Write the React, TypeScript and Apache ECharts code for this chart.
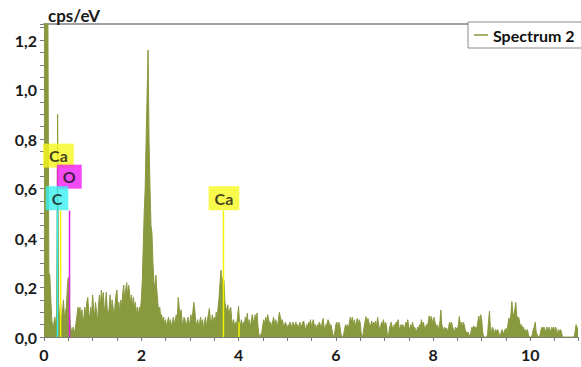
import React, { useEffect, useRef } from "react";
import * as echarts from "echarts";

// Spectrum 2: cps/eV in hundredths, one channel every 0.02 keV, one array per keV
const energyStepKeV = 0.02;
const spectrum0to1 = [300,250,200,160,130,26,25,15,7,4, 5,8,5,10,90,12,8,14,6,10, 15,8,10,12,20,24,14,5,3,2, 4,2,3,6,9,12,10,12,7,11, 6,8,12,9,14,16,10,7,12,9];
const spectrum1to2 = [17,12,8,14,10,6,13,17,12,19, 14,18,10,13,18,11,8,12,17,10, 15,12,7,13,17,19,11,14,9,15, 12,18,21,14,19,22,16,21,18,13, 17,12,16,11,14,9,12,8,12,10];
const spectrum2to3 = [15,22,36,50,60,80,98,116,79,60, 45,42,30,22,20,25,19,14,10,12, 8,9,6,8,5,7,4,6,8,5, 7,4,6,8,5,7,9,6,16,12, 8,11,6,5,8,7,4,6,8,5];
const spectrum3to4 = [6,9,7,10,14,11,6,5,7,4, 6,8,5,7,3,6,8,4,7,9, 11.5,7,5,9,6,8,5,10,8,12, 16,22,27,20,24,23,14,12,10,13, 8,11,12,7,5,7,4,6,5,8];
const spectrum4to5 = [12.5,6,5,7,4,6,5,8,6,9.6, 5,7,4,6,9,7,5,9,6,9.7, 4,1,0,1,2,5,7,5,8,6, 9,7,5,6,4,6,8,5,7,6, 4,7,10,8,6,7,5,4,6,5];
const spectrum5to6 = [3,5,4,6,5,3,6,4,5,6, 4,5,3,6,5,4,6,6.5,4,3, 5,4,6,5,7,4,6,7,4,5, 3,5,4,6,5,3,6,7.5,4,3, 5,5.5,7,6,4,5,3,1,0,2];
const spectrum6to7 = [5,6,4,6,5,2,0,0,1,3, 5,4,5,3,6,8,6,8,5,7, 4,6,7.5,5,7,6,2,0,1,4, 6,8.2,5,7.5,6,4,5,6.5,4,6, 5,6.5,4,8,5,3,4,6,5,7];
const spectrum7to8 = [4,6,5,1,0,3,5,6,4,3, 5,4,6,5,7,4,3,5,4,5, 3,4,6,5,7,4,3,5,4,6, 3,4,3,2,4,3,5,4,7,5, 6,4,3,5,4,6,8.5,6,8.3,7];
const spectrum8to9 = [5,8,6,4,5,3,4,6,10.9,5, 3.5,3,4,3,3.5,2,4,6,5,6, 4,3,2,4,3.5,3,5,8.3,5,6, 4,6,5,3,2,1.5,2,1,0,2, 4,3,4.5,3,4,3.5,6,8.5,6,9];
const spectrum9to10 = [7,2,0,0,0,0,1,6,10.5,3, 2,4,3,1,3,2,3,2.5,1,0, 2,3,1,2,3,3.5,2,5,7.7,6, 9,14.3,10,8,11,14,9,7,8,6, 4,5,3.5,4,2,3,2,3,1,0];
const spectrum10to11 = [0,0,1,3,4,6,2,1,0,0, 1,3,4,3,4,2,3,4,2,4, 3,2,4,3,4,2,4,3,1,3, 2,3,2,0,0,0,0,0,0,0, 0,0,0,0,0,0,2,5,4,3];

// Element marker lines
const markerEnergies = [0.277, 0.341, 0.525, 3.69, 4.01];
const markerHeights = [0.51, 0.51, 0.51, 0.51, 0.06];
const markerColors = ["#35eded", "#f2f200", "#e51ee5", "#f2f200", "#f2f200"];

// Element labels
const labelTexts = ["Ca", "O", "C", "Ca"];
const labelEnergies = [0.297, 0.52, 0.266, 3.70];
const labelLevels = [0.733, 0.648, 0.561, 0.561];
const labelColors = ["#f7f71e", "#f01ef0", "#3af0f0", "#f7f71e"];

const seriesName = "Spectrum 2";
const green = "#88993e";
const font = "Lato, 'Open Sans', sans-serif";

export default function App() {
  const ref = useRef<HTMLDivElement>(null);
  useEffect(() => {
    const chart = echarts.init(ref.current!, null, { renderer: "svg" });
    const all = [
      ...spectrum0to1, ...spectrum1to2, ...spectrum2to3, ...spectrum3to4, ...spectrum4to5,
      ...spectrum5to6, ...spectrum6to7, ...spectrum7to8, ...spectrum8to9, ...spectrum9to10, ...spectrum10to11,
    ];
    const spectrum = all.map((v, i) => [Number((i * energyStepKeV).toFixed(2)), v / 100]);

    const markerSeries = markerEnergies.map((e, i) => ({
      type: "line",
      data: [[e, 0], [e, markerHeights[i]]],
      symbol: "none",
      lineStyle: { color: markerColors[i], width: 1.5 },
      silent: true,
      z: 3,
    }));

    const labelStyle = { fontFamily: font, fontWeight: "bold", fontSize: 16, color: "#1a1a1a" };

    const option: any = {
      animation: false,
      backgroundColor: "#ffffff",
      title: {
        text: "cps/eV",
        left: 43,
        top: 2,
        textStyle: { ...labelStyle, fontSize: 17 },
      },
      legend: {
        data: [{ name: seriesName, icon: "rect" }],
        left: 468,
        top: 22,
        padding: [5, 20, 5, 6],
        itemWidth: 14,
        itemHeight: 1.5,
        itemGap: 6,
        borderColor: "#8a8a8a",
        borderWidth: 1,
        backgroundColor: "#ffffff",
        textStyle: { ...labelStyle, color: "#111" },
      },
      grid: {
        left: 44,
        right: 0,
        top: 24,
        bottom: 30,
      },
      xAxis: [
        {
          type: "value",
          min: 0,
          max: 10.98,
          interval: 0.5,
          axisLine: { show: true, lineStyle: { color: "#7a7a7a", width: 1 } },
          axisTick: { show: true, length: 4, lineStyle: { color: "#7a7a7a" } },
          splitLine: { show: false },
          axisLabel: {
            ...labelStyle,
            margin: 9,
            formatter: (v: number) => {
              const k = Math.round(v * 2);
              if (Math.abs(v * 2 - k) < 1e-6 && k % 4 === 0) return String(k / 2);
              return "";
            },
          },
        },
        {
          type: "value",
          position: "top",
          min: 0,
          max: 10.98,
          axisLine: { show: true, onZero: false, lineStyle: { color: "#a0a0a0", width: 2 } },
          axisTick: { show: false },
          axisLabel: { show: false },
          splitLine: { show: false },
        },
      ],
      yAxis: {
        type: "value",
        min: 0,
        max: 1.265,
        interval: 0.05,
        axisLine: { show: true, lineStyle: { color: "#7a7a7a", width: 1 } },
        axisTick: { show: true, length: 4, lineStyle: { color: "#7a7a7a" } },
        splitLine: { show: false },
        axisLabel: {
          ...labelStyle,
          margin: 7,
          formatter: (v: number) => {
            const k = Math.round(v * 20);
            if (Math.abs(v * 20 - k) < 1e-6 && k % 4 === 0) return (k / 20).toFixed(1).replace(".", ",");
            return "";
          },
        },
      },
      series: [
        {
          name: seriesName,
          type: "line",
          data: spectrum,
          symbol: "none",
          showSymbol: false,
          itemStyle: { color: green },
          lineStyle: { color: green, width: 1 },
          areaStyle: { color: green, opacity: 1 },
          clip: true,
          z: 2,
        },
        ...markerSeries,
        {
          type: "scatter",
          symbolSize: 1,
          itemStyle: { color: "rgba(0,0,0,0)" },
          silent: true,
          z: 5,
          data: labelTexts.map((t, i) => ({
            name: t,
            value: [labelEnergies[i], labelLevels[i]],
            label: { backgroundColor: labelColors[i] },
          })),
          label: {
            show: true,
            position: "inside",
            formatter: (p: any) => p.name,
            ...labelStyle,
            color: "#111",
            lineHeight: 15,
            padding: [5, 6, 4, 6],
          },
        },
      ],
    };
    chart.setOption(option);
    return () => chart.dispose();
  }, []);
  return (
    <div
      ref={ref}
      style={{ position: "fixed", left: 0, top: 0, width: 581, height: 367, background: "#fff" }}
    />
  );
}
